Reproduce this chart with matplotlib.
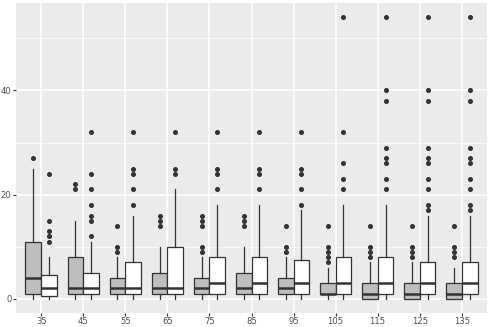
import matplotlib
matplotlib.use("Agg")
import matplotlib.pyplot as plt
import numpy as np

categories = ["35", "45", "55", "65", "75", "85", "95", "105", "115", "125", "135"]

# grey series: (whislo, q1, med, q3, whishi)
grey_low = [0, 0, 0, 0, 0, 0, 0, 0, 0, 0, 0]
grey_q1 = [1, 1, 1, 1, 1, 1, 1, 1, 0, 0, 0]
grey_med = [4, 2, 2, 2, 2, 2, 2, 1, 1, 1, 1]
grey_q3 = [11, 8, 4, 5, 4, 5, 4, 3, 3, 3, 3]
grey_high = [25, 15, 8, 10, 8, 10, 8, 6, 7, 7, 6]
grey_out = [
    [27], [22, 21], [14, 10, 9], [16, 15, 14], [16, 15, 14, 10, 9],
    [16, 15, 14], [14, 10, 9], [14, 10, 9, 8, 7], [14, 10, 9, 8],
    [14, 10, 9, 8], [14, 10, 9, 8],
]

white_low = [0, 0, 0, 0, 0, 0, 0, 0, 0, 0, 0]
white_q1 = [0.5, 1, 1, 1, 1, 1, 1, 1, 1, 1, 1]
white_med = [2, 2, 2, 2, 3, 3, 3, 3, 3, 3, 3]
white_q3 = [4.5, 5, 7, 10, 8, 8, 7.5, 8, 8, 7, 7]
white_high = [8, 11, 16, 21, 18, 18, 17, 18, 18, 16, 16]
white_out = [
    [24, 15, 13, 12, 11],
    [32, 24, 21, 18, 16, 15, 12],
    [32, 25, 24, 21, 18],
    [32, 25, 24],
    [32, 25, 24, 21],
    [32, 25, 24, 21],
    [32, 25, 24, 21, 18],
    [54, 32, 26, 23, 21],
    [54, 40, 38, 29, 27, 26, 23, 21],
    [54, 40, 38, 29, 27, 26, 23, 21, 18, 17],
    [54, 40, 38, 29, 27, 26, 23, 21, 18, 17],
]

def make_stats(lo, q1, med, q3, hi, out):
    return [dict(whislo=a, q1=b, med=c, q3=d, whishi=e, fliers=f)
            for a, b, c, d, e, f in zip(lo, q1, med, q3, hi, out)]

fig = plt.figure(figsize=(4.91, 3.27), dpi=100)
ax = fig.add_axes([16 / 491, 1 - 313 / 327, (487 - 16) / 491, (313 - 3.3) / 327])
ax.set_facecolor("#EBEBEB")

pos = np.arange(1, len(categories) + 1)
edge = "#333333"
w = 0.375

for stats, offset, fill in [
    (make_stats(grey_low, grey_q1, grey_med, grey_q3, grey_high, grey_out), -w / 2, "#BEBEBE"),
    (make_stats(white_low, white_q1, white_med, white_q3, white_high, white_out), w / 2, "#FFFFFF"),
]:
    ax.bxp(stats, positions=pos + offset, widths=w, patch_artist=True,
           showcaps=False,
           boxprops=dict(facecolor=fill, edgecolor=edge, linewidth=0.9),
           medianprops=dict(color=edge, linewidth=1.8),
           whiskerprops=dict(color=edge, linewidth=0.9),
           flierprops=dict(marker="o", markerfacecolor=edge, markeredgecolor=edge,
                           markersize=2.6, linestyle="none"),
           zorder=3)

ax.set_xlim(0.4, len(categories) + 0.6)
ax.set_ylim(-2.7, 56.7)
ax.set_xticks(pos)
ax.set_xticklabels(categories)
ax.set_yticks([0, 20, 40])
ax.set_yticks([10, 30, 50], minor=True)

ax.grid(True, which="major", color="white", linewidth=1.1, zorder=0)
ax.grid(True, which="minor", axis="y", color="white", linewidth=0.55, zorder=0)
ax.set_axisbelow(True)
for s in ax.spines.values():
    s.set_visible(False)
ax.tick_params(axis="both", which="major", length=2.2, width=0.8, color=edge,
               labelsize=6.1, labelcolor="#4D4D4D", pad=1)
ax.tick_params(axis="both", which="minor", length=0)

fig.savefig("out.png", dpi=100)
